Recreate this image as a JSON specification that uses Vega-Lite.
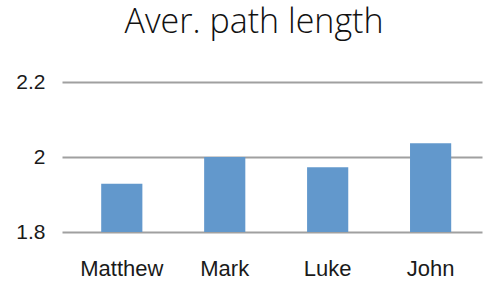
{
  "$schema": "https://vega.github.io/schema/vega-lite/v6.json",
  "autosize": "none",
  "width": 420,
  "height": 150,
  "padding": {"left": 62, "top": 82, "right": 6, "bottom": 51},
  "background": "white",
  "title": {
    "text": "Aver. path length",
    "fontSize": 34,
    "font": "Open Sans",
    "fontWeight": 300,
    "color": "#111111",
    "anchor": "middle",
    "baseline": "alphabetic",
    "offset": 4,
    "dx": -18
  },
  "data": {
    "values": [
      {"gospel": "Matthew", "value": 1.929},
      {"gospel": "Mark", "value": 2.0},
      {"gospel": "Luke", "value": 1.973},
      {"gospel": "John", "value": 2.037}
    ]
  },
  "config": {
    "view": {"stroke": null},
    "axis": {"labelFont": "Liberation Sans", "labelColor": "#1a1a1a"}
  },
  "mark": {"type": "bar", "color": "#6298cc", "clip": true},
  "encoding": {
    "x": {
      "field": "gospel",
      "type": "nominal",
      "sort": null,
      "scale": {"paddingInner": 0.6, "paddingOuter": 0.34, "align": 0.56},
      "axis": {"title": null, "labelAngle": 0, "domain": false, "ticks": false, "labelPadding": 26, "labelFontSize": 22, "labelLetterSpacing": 0.9}
    },
    "y": {
      "field": "value",
      "type": "quantitative",
      "scale": {"domain": [1.8, 2.2], "zero": false, "nice": false},
      "axis": {
        "title": null,
        "values": [1.8, 2.0, 2.2],
        "format": "~g",
        "domain": false,
        "ticks": false,
        "labelFontSize": 21,
        "labelLetterSpacing": 1.5,
        "labelPadding": 17,
        "gridColor": "#a0a0a0",
        "gridWidth": 2,
        "gridOpacity": 1
      }
    }
  }
}
